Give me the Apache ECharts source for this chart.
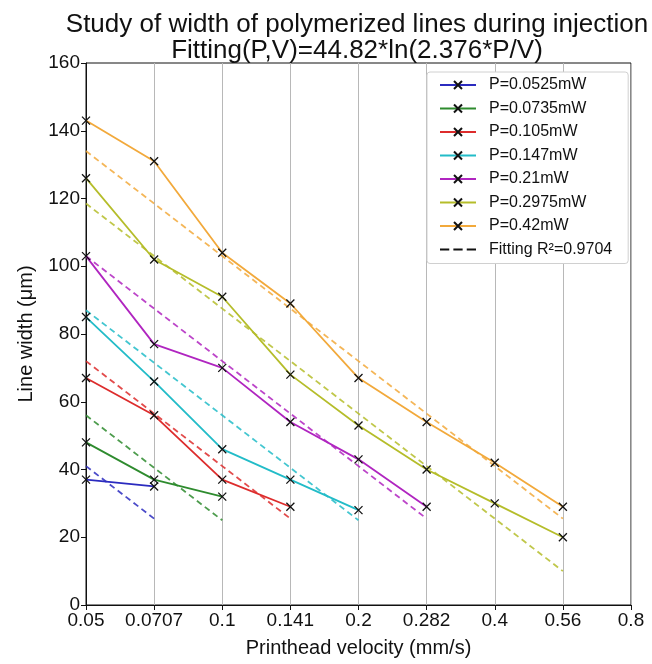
<!DOCTYPE html>
<html>
<head>
<meta charset="utf-8">
<script src="https://cdn.jsdelivr.net/npm/echarts@6/dist/echarts.min.js"></script>
<style>html,body{margin:0;padding:0;background:#fff;}#c{width:652px;height:664px;}</style>
</head>
<body>
<div id="c"></div>
<script>
// x categories (log-spaced velocities, mm/s)
const velocities = ['0.05', '0.0707', '0.1', '0.141', '0.2', '0.282', '0.4', '0.56', '0.8'];
const yTicks = [0, 20, 40, 60, 80, 100, 120, 140, 160];

// measured line widths (µm)
const p0525 = [37, 35];
const p0735 = [48, 37, 32];
const p105 = [67, 56, 37, 29];
const p147 = [85, 66, 46, 37, 28];
const p21 = [103, 77, 70, 54, 43, 29];
const p2975 = [126, 102, 91, 68, 53, 40, 30, 20];
const p42 = [143, 131, 104, 89, 67, 54, 42, 29];

// fitting curves
const fit0525 = [41, 25.5];
const fit0735 = [56, 40.5, 25];
const fit105 = [72, 56.5, 41, 25.5];
const fit147 = [87, 71.5, 56, 40.5, 25];
const fit21 = [103, 87.5, 72, 56.5, 41, 25.5];
const fit2975 = [118.5, 103, 87.5, 72, 56.5, 41, 25.5, 10];
const fit42 = [134, 118.5, 103, 87.5, 72, 56.5, 41, 25.5];

const names = ['P=0.0525mW', 'P=0.0735mW', 'P=0.105mW', 'P=0.147mW', 'P=0.21mW', 'P=0.2975mW', 'P=0.42mW'];
const colors = ['#2b2bbf', '#2e8b2e', '#dd2c2c', '#22bcc8', '#b025c0', '#b5bd2a', '#f2a93b'];
const measured = [p0525, p0735, p105, p147, p21, p2975, p42];
const fits = [fit0525, fit0735, fit105, fit147, fit21, fit2975, fit42];
const fitName = 'Fitting R²=0.9704';

const xSym = 'path://M0,0L10,10M10,0L0,10';
const dashIcon = 'path://M0,0h9v2h-9zM13,0h9v2h-9zM26,0h9v2h-9z';
const series = [];
fits.forEach((f, i) => {
  series.push({
    name: 'fit' + i, type: 'line', data: f, symbol: 'none', silent: true,
    lineStyle: { color: colors[i], width: 1.8, type: [6, 4], opacity: 0.85 }, z: 2
  });
});
measured.forEach((d, i) => {
  series.push({
    name: names[i], type: 'line', data: d, symbol: xSym, symbolSize: 8,
    itemStyle: { color: colors[i], borderColor: '#111', borderWidth: 1.3 },
    lineStyle: { color: colors[i], width: 1.8 }, z: 3
  });
});
series.push({
  name: fitName, type: 'line', data: [], symbol: 'none',
  itemStyle: { color: '#111' },
  lineStyle: { color: '#111', width: 1.8, type: [6, 4] }
});

const legendData = names.map(n => ({ name: n }));
legendData.push({ name: fitName, icon: dashIcon, itemStyle: { color: '#111', borderWidth: 0 } });

const chart = echarts.init(document.getElementById('c'), null, { renderer: 'canvas' });
chart.setOption({
  animation: false,
  backgroundColor: '#fff',
  textStyle: { fontFamily: 'Liberation Sans, Arial, sans-serif' },
  title: {
    text: 'Study of width of polymerized lines during injection\nFitting(P,V)=44.82*ln(2.376*P/V)',
    left: 352, top: 7, textAlign: 'center',
    textStyle: { fontSize: 26, fontWeight: 'normal', color: '#111', lineHeight: 26, fontFamily: 'Liberation Sans, Arial, sans-serif' }
  },
  legend: {
    data: legendData,
    orient: 'vertical', left: 427, top: 72,
    padding: [5, 16, 6, 12],
    itemWidth: 36, itemHeight: 10, itemGap: 7.5,
    borderColor: '#d0d0d0', borderWidth: 1, borderRadius: 3, backgroundColor: '#fff',
    textStyle: { fontSize: 16, color: '#111', padding: [0, 0, 0, 8] },
    selectedMode: false
  },
  grid: { left: 86, right: 21, top: 63, bottom: 59, show: true, borderColor: '#111', borderWidth: 1, containLabel: false },
  xAxis: {
    type: 'category', data: velocities, boundaryGap: false,
    name: 'Printhead velocity (mm/s)', nameLocation: 'middle', nameGap: 33,
    nameTextStyle: { fontSize: 20, color: '#111' },
    axisLine: { show: true, lineStyle: { color: '#111', width: 1 } },
    axisTick: { show: true, inside: false, length: 5, lineStyle: { color: '#111' } },
    axisLabel: { fontSize: 19, color: '#111', margin: 6, interval: 0 },
    splitLine: { show: true, lineStyle: { color: '#b8b8b8', width: 1 } }
  },
  yAxis: {
    type: 'value', min: yTicks[0], max: yTicks[yTicks.length - 1], interval: 20,
    name: 'Line width (μm)', nameLocation: 'middle', nameGap: 50, nameRotate: 90,
    nameTextStyle: { fontSize: 20, color: '#111' },
    axisLine: { show: true, lineStyle: { color: '#111', width: 1 } },
    axisTick: { show: true, inside: false, length: 5, lineStyle: { color: '#111' } },
    axisLabel: { fontSize: 19, color: '#111', margin: 6 },
    splitLine: { show: false }
  },
  series: series
});
</script>
</body>
</html>
